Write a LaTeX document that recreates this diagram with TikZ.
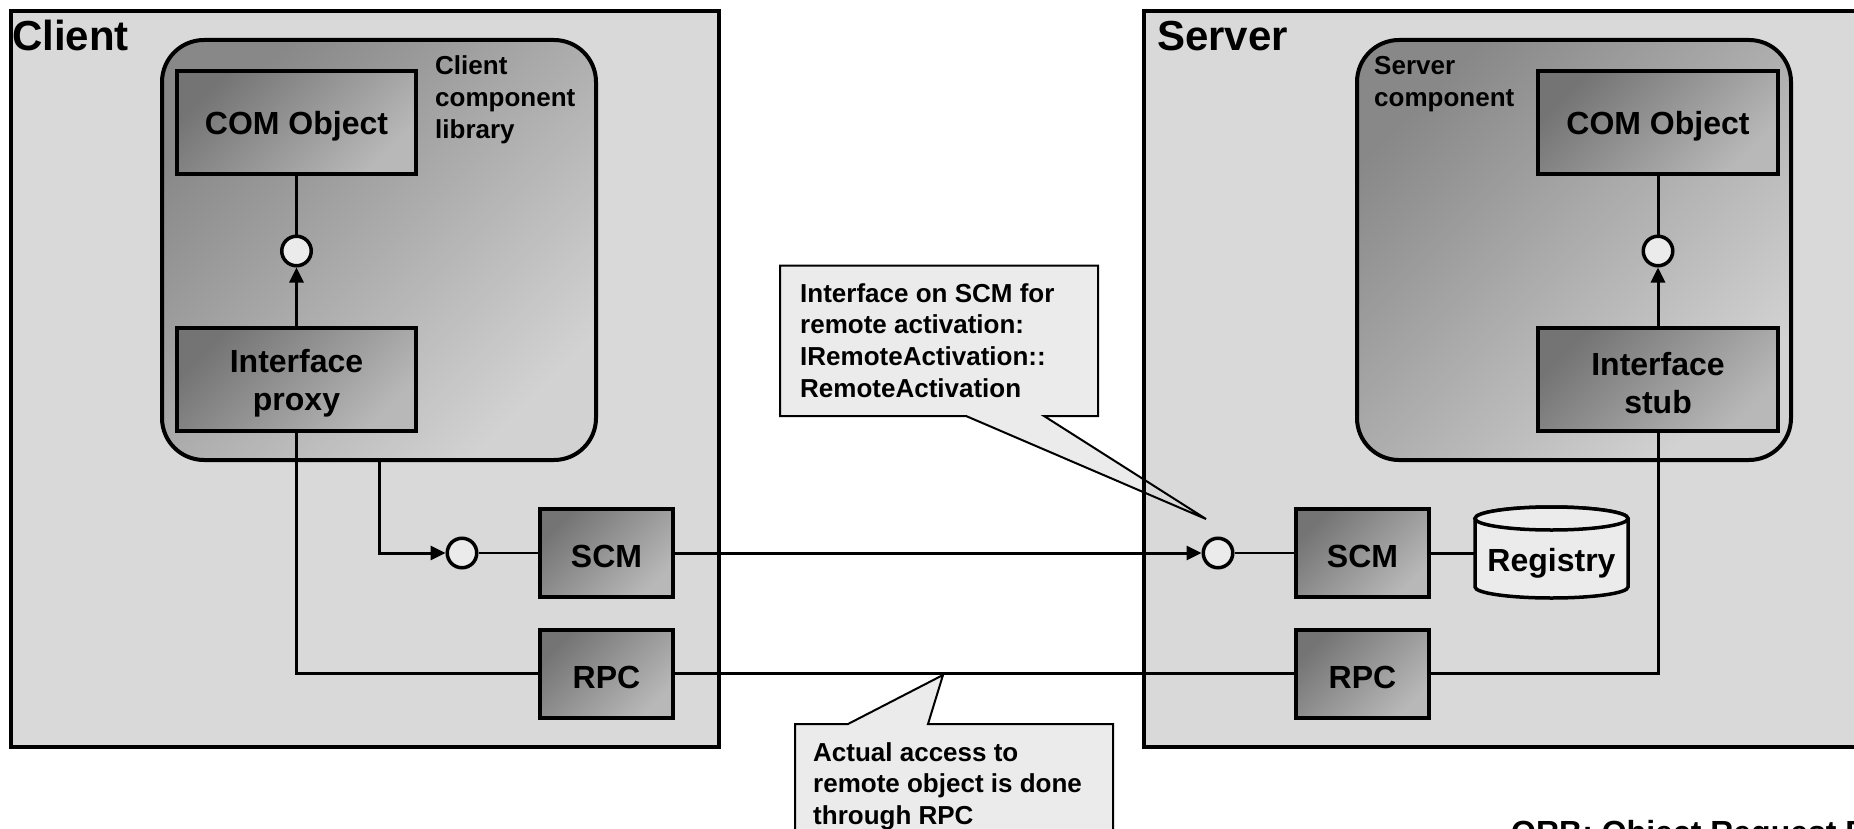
\documentclass[tikz,border=0pt]{standalone}
\usepackage{fontspec}
\setmainfont{Liberation Sans}
\usetikzlibrary{arrows.meta}
\definecolor{outerfill}{HTML}{D9D9D9}
\definecolor{compdark}{HTML}{888888}
\definecolor{complight}{HTML}{D2D2D2}
\definecolor{boxdark}{HTML}{747474}
\definecolor{boxlight}{HTML}{B8B8B8}
\definecolor{lightfill}{HTML}{EBEBEB}
\newcommand{\upstrut}{\rule{0pt}{30pt}}
\begin{document}
\begin{tikzpicture}[x=1pt,y=-1pt,
  outerbox/.style={draw=black, line width=4pt, fill=outerfill, inner sep=0pt},
  compbox/.style={draw=black, line width=4pt, rounded corners=42pt, top color=compdark, bottom color=complight, shading angle=45, inner sep=0pt},
  innerbox/.style={draw=black, line width=4pt, top color=boxdark, bottom color=boxlight, shading angle=45, inner sep=0pt, align=center, font=\fontsize{32}{38}\selectfont\bfseries},
  lolli/.style={circle, draw=black, line width=3.5pt, fill=lightfill, minimum size=29.5pt, inner sep=0pt},
  conn/.style={line width=3pt},
  thinconn/.style={line width=2.5pt},
  arr/.style={-{Triangle[length=15pt,width=14pt]}},
  calloutfill/.style={fill=lightfill},
  calloutline/.style={draw=black, line width=2pt, line join=miter},
  titletxt/.style={inner sep=0pt, anchor=base west, font=\fontsize{42}{50}\selectfont\bfseries},
  smalltxt/.style={inner sep=0pt, anchor=base west, font=\fontsize{26}{32}\selectfont\bfseries},
  notetxt/.style={inner sep=0pt, anchor=base west, font=\fontsize{26}{31.7}\selectfont\bfseries},
  bigtxt/.style={inner sep=0pt, font=\fontsize{32}{38}\selectfont\bfseries}
]
\useasboundingbox (0,0) rectangle (1854,829);
\clip (0,0) rectangle (1854,829);
\fill[white] (0,0) rectangle (1854,829);

% callout geometry
\coordinate (a1) at (780,265.5);
\coordinate (a2) at (1098,265.5);
\coordinate (a3) at (1098,416);
\coordinate (a4) at (1044,416);
\coordinate (tipA) at (1206,519);
\coordinate (a5) at (966,416);
\coordinate (a6) at (780,416);
\coordinate (b1) at (795,724);
\coordinate (b2) at (848,724);
\coordinate (tipB) at (943,675);
\coordinate (b3) at (928,724);
\coordinate (b4) at (1113,724);
\coordinate (b5) at (1113,860);
\coordinate (b6) at (795,860);

\fill[calloutfill] (a1) -- (a2) -- (a3) -- (a4) -- (tipA) -- (a5) -- (a6) -- cycle;
\fill[calloutfill] (b1) -- (b2) -- (tipB) -- (b3) -- (b4) -- (b5) -- (b6) -- cycle;

% outer boxes
\node[outerbox, minimum width=708, minimum height=736] (client) at (365,379) {};
\node[outerbox, minimum width=736, minimum height=736] (server) at (1512,379) {};

% component boxes
\node[compbox, minimum width=434, minimum height=420] (clib) at (379,250) {};
\node[compbox, minimum width=434, minimum height=420] (slib) at (1574,250) {};

% callout outlines
\draw[calloutline] (a1) -- (a2) -- (a3) -- (a4) -- (tipA) -- (a5) -- (a6) -- cycle;
\draw[calloutline] (b1) -- (b2) -- (tipB) -- (b3) -- (b4) -- (b5) -- (b6) -- cycle;

% inner boxes
\node[innerbox, minimum width=239, minimum height=103] (com1) at (296.5,122.5) {\upstrut COM Object};
\node[innerbox, minimum width=239, minimum height=103] (proxy) at (296.5,379.5) {\upstrut Interface\\proxy};
\node[innerbox, minimum width=240, minimum height=103] (com2) at (1658,122.5) {\upstrut COM Object};
\node[innerbox, minimum width=240, minimum height=103] (stub) at (1658,379.5) {\upstrut Interface\\stub};
\node[innerbox, minimum width=133, minimum height=88] (scm1) at (606.5,553) {\upstrut SCM};
\node[innerbox, minimum width=133, minimum height=88] (rpc1) at (606.5,673.5) {\upstrut RPC};
\node[innerbox, minimum width=133, minimum height=88] (scm2) at (1362.5,553) {\upstrut SCM};
\node[innerbox, minimum width=133, minimum height=88] (rpc2) at (1362.5,673.5) {\upstrut RPC};

% lollipops
\node[lolli] (c1) at (296.5,251) {};
\node[lolli] (c2) at (1658,251) {};
\node[lolli] (c3) at (462,553) {};
\node[lolli] (c4) at (1218,553) {};

% registry
\node[inner sep=0pt, minimum width=153, minimum height=91] (reg) at (1551.5,553) {};
\filldraw[fill=lightfill, draw=black, line width=3.5pt]
  (1475,518.5) -- (1475,587) arc[start angle=180, end angle=360, x radius=76.5pt, y radius=11pt]
  -- (1628,518.5) arc[start angle=0, end angle=180, x radius=76.5pt, y radius=11.5pt] -- cycle;
\draw[fill=lightfill, draw=black, line width=3.5pt] (1551.5,518.5) ellipse[x radius=76.5pt, y radius=11.5pt];
\node[bigtxt] (regtxt) at (1551.5,563.5) {Registry};

% connectors
\draw[conn] (com1.south) -- (c1.north);
\draw[conn,arr] (proxy.north) -- (c1.south);
\draw[conn] (com2.south) -- (c2.north);
\draw[conn,arr] (stub.north) -- (c2.south);
\draw[conn,arr] (clib.south) |- (c3.west);
\draw[thinconn] (c3.east) -- (scm1.west);
\draw[conn] (proxy.south) |- (rpc1.west);
\draw[conn,arr] (scm1.east) -- (c4.west);
\draw[thinconn] (c4.east) -- (scm2.west);
\draw[conn] (scm2.east) -- (reg.west);
\draw[conn] (rpc1.east) -- (rpc2.west);
\draw[conn] (rpc2.east) -| (stub.south);

% labels
\node[titletxt] (clienttitle) at (12,51) {Client};
\node[titletxt] (servertitle) at (1157,51) {Server};
\node[smalltxt] (cliblbl) at (435,75) {\parbox[t]{200pt}{Client\\component\\library}};
\node[smalltxt] (sliblbl) at (1374,75) {\parbox[t]{200pt}{Server\\component}};
\node[notetxt] (noteA) at (800,302) {\parbox[t]{300pt}{Interface on SCM for\\remote activation:\\IRemoteActivation::\\RemoteActivation}};
\node[notetxt] (noteB) at (813,761) {\parbox[t]{300pt}{Actual access to\\remote object is done\\through RPC}};
\node[bigtxt, anchor=base west] (orb) at (1511,843) {ORB: Object Request Broker};
\end{tikzpicture}
\end{document}
